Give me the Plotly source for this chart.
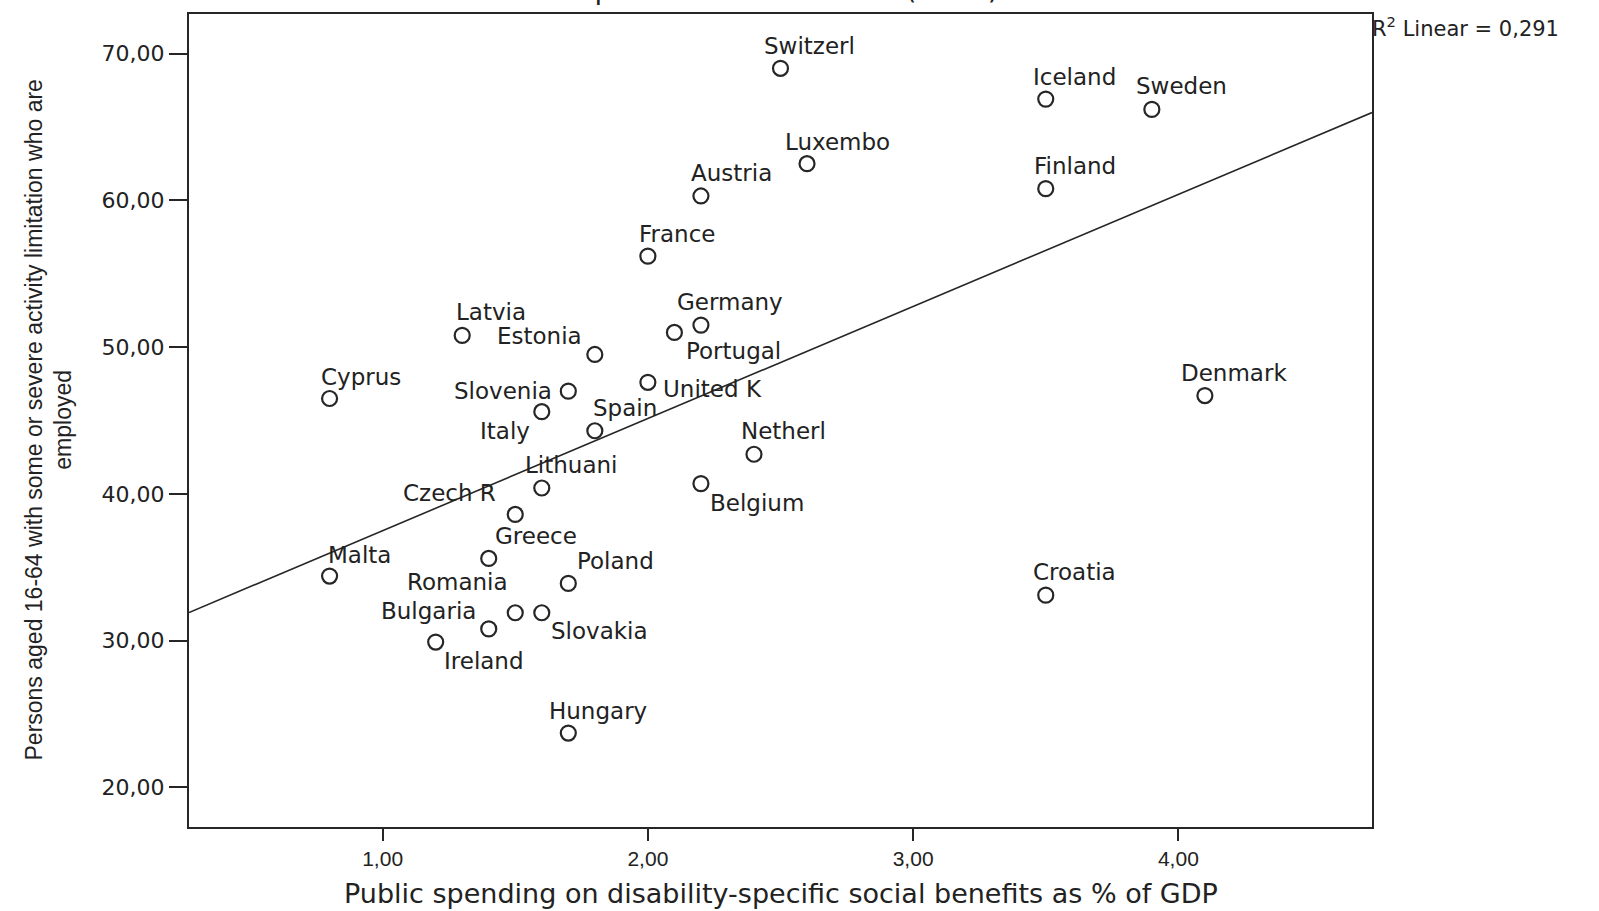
import numpy as np
import plotly.graph_objects as go

# ---- data ----
countries = ["Switzerl", "Iceland", "Sweden", "Luxembo", "Finland", "Austria", "France",
             "Germany", "Portugal", "Latvia", "Estonia", "Cyprus", "Slovenia", "United K",
             "Denmark", "Italy", "Spain", "Netherl", "Belgium", "Lithuani", "Czech R",
             "Greece", "Malta", "Poland", "Croatia", "Romania", "Bulgaria", "Slovakia",
             "Ireland", "Hungary"]
spending = [2.5, 3.5, 3.9, 2.6, 3.5, 2.2, 2.0,
            2.2, 2.1, 1.3, 1.8, 0.8, 1.7, 2.0,
            4.1, 1.6, 1.8, 2.4, 2.2, 1.6, 1.5,
            1.4, 0.8, 1.7, 3.5, 1.5, 1.4, 1.6,
            1.2, 1.7]
employed = [69.0, 66.9, 66.2, 62.5, 60.8, 60.3, 56.2,
            51.5, 51.0, 50.8, 49.5, 46.5, 47.0, 47.6,
            46.7, 45.6, 44.3, 42.7, 40.7, 40.4, 38.6,
            35.6, 34.4, 33.9, 33.1, 31.9, 30.8, 31.9,
            29.9, 23.7]

x_tickvals = [1, 2, 3, 4]
x_ticktext = ["1,00", "2,00", "3,00", "4,00"]
y_tickvals = [20, 30, 40, 50, 60, 70]
y_ticktext = ["20,00", "30,00", "40,00", "50,00", "60,00", "70,00"]
r2_text = "R<sup>2</sup> Linear = 0,291"

x_title = "Public spending on disability-specific social benefits as % of GDP"
y_title = "Persons aged 16-64 with some or severe activity limitation who are<br>employed"
cut_title = "specific social benefits (2011)"

# ---- label placement (pixel offsets, style only) ----
label_shift = [(29, 22), (29, 22), (30, 23), (30, 22), (29, 23), (31, 23), (29, 22),
               (29, 23), (59, -19), (29, 23), (-55, 18), (31, 21), (-65, 0), (65, -7),
               (29, 23), (-37, -19), (30, 23), (30, 23), (56, -19), (29, 23), (-66, 21),
               (47, 22), (30, 21), (47, 22), (29, 23), (-58, 31), (-60, 18), (58, -18),
               (48, -19), (30, 22)]

x_range = [0.27, 4.73]
y_range = [17.3, 72.7]

# linear fit from the data
slope, intercept = np.polyfit(spending, employed, 1)
fit_x = np.array(x_range)
fit_y = intercept + slope * fit_x

INK = "#262626"
TXT = "#222222"
FONT = "DejaVu Sans"

fig = go.Figure()
fig.add_trace(go.Scatter(x=fit_x, y=fit_y, mode="lines",
                         line=dict(color=INK, width=1.6), hoverinfo="skip",
                         showlegend=False))
fig.add_trace(go.Scatter(x=spending, y=employed, mode="markers", text=countries,
                         marker=dict(symbol="circle-open", size=15, color=INK,
                                     line=dict(color=INK, width=2.2)),
                         showlegend=False))

annotations = []
for name, xv, yv, (dx, dy) in zip(countries, spending, employed, label_shift):
    annotations.append(dict(x=xv, y=yv, xref="x", yref="y", text=name, showarrow=False,
                            xshift=dx, yshift=dy, xanchor="center", yanchor="middle",
                            font=dict(family=FONT, size=23, color=TXT)))

annotations.append(dict(x=1, y=1, xref="paper", yref="paper", text=r2_text,
                        showarrow=False, xanchor="left", yanchor="top", xshift=-2, yshift=3,
                        font=dict(family=FONT, size=21, color=TXT)))
annotations.append(dict(x=0.5, y=0, xref="paper", yref="paper", text=x_title,
                        showarrow=False, xanchor="center", yanchor="middle", yshift=-66,
                        borderpad=0,
                        font=dict(family=FONT, size=27, color=TXT)))
annotations.append(dict(x=0, y=0.5, xref="paper", yref="paper", text=y_title,
                        showarrow=False, xanchor="center", yanchor="middle", xshift=-141,
                        textangle=-90,
                        font=dict(family="Liberation Sans", size=23, color=TXT)))
annotations.append(dict(x=0.508, y=1, xref="paper", yref="paper", text=cut_title,
                        showarrow=False, xanchor="center", yanchor="bottom", yshift=6,
                        font=dict(family=FONT, size=28, color=TXT)))

fig.update_layout(
    width=1599, height=911,
    margin=dict(l=189, r=227, t=12, b=84),
    paper_bgcolor="white", plot_bgcolor="white",
    annotations=annotations,
    xaxis=dict(range=x_range, tickvals=x_tickvals, ticktext=x_ticktext,
               showgrid=False, zeroline=False, showline=True, mirror=True,
               linecolor=INK, linewidth=2, ticks="outside", ticklen=12, tickwidth=2,
               tickcolor=INK,
               tickfont=dict(family="Liberation Sans", size=21, color=TXT)),
    yaxis=dict(range=y_range, tickvals=y_tickvals, ticktext=y_ticktext,
               showgrid=False, zeroline=False, showline=True, mirror=True,
               linecolor=INK, linewidth=2, ticks="outside", ticklen=18, tickwidth=2,
               tickcolor=INK,
               tickfont=dict(family=FONT, size=22, color=TXT)),
)

fig.write_html("out.html", config={"displayModeBar": False},
               post_script="document.body.style.margin='0px';")
